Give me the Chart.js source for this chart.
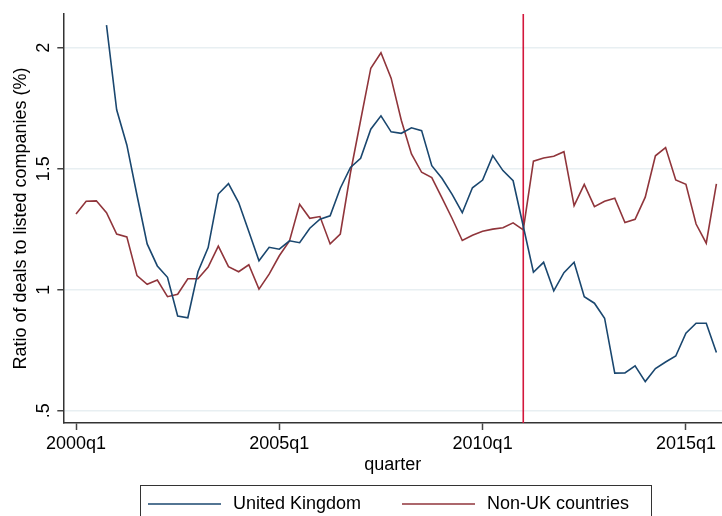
<!DOCTYPE html>
<html>
<head>
<meta charset="utf-8">
<script src="https://cdn.jsdelivr.net/npm/chart.js@4"></script>
<style>
  body { margin: 0; background: #fff; }
</style>
</head>
<body>
<canvas id="ratioChart" width="722" height="516"></canvas>
<script>
const quarters = [
  '2000q1','2000q2','2000q3','2000q4','2001q1','2001q2','2001q3','2001q4',
  '2002q1','2002q2','2002q3','2002q4','2003q1','2003q2','2003q3','2003q4',
  '2004q1','2004q2','2004q3','2004q4','2005q1','2005q2','2005q3','2005q4',
  '2006q1','2006q2','2006q3','2006q4','2007q1','2007q2','2007q3','2007q4',
  '2008q1','2008q2','2008q3','2008q4','2009q1','2009q2','2009q3','2009q4',
  '2010q1','2010q2','2010q3','2010q4','2011q1','2011q2','2011q3','2011q4',
  '2012q1','2012q2','2012q3','2012q4','2013q1','2013q2','2013q3','2013q4',
  '2014q1','2014q2','2014q3','2014q4','2015q1','2015q2','2015q3','2015q4'
]

const ukRatio = [
  null, null, null, 2.093, 1.743, 1.598, 1.390, 1.189,
  1.098, 1.051, 0.891, 0.884, 1.074, 1.174, 1.395, 1.438,
  1.360, 1.240, 1.119, 1.175, 1.167, 1.202, 1.194, 1.254,
  1.291, 1.305, 1.419, 1.505, 1.543, 1.663, 1.718, 1.652,
  1.646, 1.669, 1.657, 1.512, 1.460, 1.394, 1.318, 1.421,
  1.453, 1.554, 1.492, 1.450, 1.262, 1.072, 1.113, 0.995,
  1.070, 1.113, 0.971, 0.944, 0.882, 0.655, 0.656, 0.685,
  0.620, 0.674, 0.701, 0.726, 0.820, 0.861, 0.861, 0.740
]

const nonUkRatio = [
  1.313, 1.365, 1.367, 1.318, 1.230, 1.218, 1.058, 1.022,
  1.040, 0.971, 0.981, 1.045, 1.045, 1.093, 1.180, 1.095,
  1.074, 1.103, 1.002, 1.064, 1.140, 1.201, 1.353, 1.295,
  1.302, 1.189, 1.230, 1.483, 1.700, 1.915, 1.979, 1.874,
  1.700, 1.561, 1.485, 1.463, 1.379, 1.294, 1.203, 1.225,
  1.241, 1.250, 1.256, 1.276, 1.247, 1.531, 1.544, 1.551,
  1.570, 1.347, 1.435, 1.343, 1.365, 1.378, 1.277, 1.291,
  1.382, 1.553, 1.587, 1.453, 1.435, 1.271, 1.192, 1.437
]

const xTickLabels = ['2000q1', '2005q1', '2010q1', '2015q1']
const yTickValues = [0.5, 1, 1.5, 2]
const yTickLabels = ['.5', '1', '1.5', '2']
const eventQuarter = '2011q1'

const FONT = "'Liberation Sans', Arial, Helvetica, sans-serif"
const ukColor = '#1a476f'
const nonUkColor = '#90353b'

function toPoints(values) {
  return values.map((v, i) => ({ x: i, y: v }))
}

// stata-ish extras: rotated y labels, y title, event line, boxed legend
const extras = {
  id: 'extras',
  beforeDatasetsDraw(chart) {
    const ctx = chart.ctx
    const area = chart.chartArea
    const x = chart.scales.x.getPixelForValue(quarters.indexOf(eventQuarter))
    ctx.save()
    ctx.strokeStyle = '#d3173c'
    ctx.lineWidth = 1.6
    ctx.beginPath()
    ctx.moveTo(x, area.top)
    ctx.lineTo(x, area.bottom)
    ctx.stroke()
    ctx.restore()
  },
  afterDraw(chart) {
    const ctx = chart.ctx
    const y = chart.scales.y
    const area = chart.chartArea
    ctx.save()
    ctx.fillStyle = '#000'
    ctx.font = '18px ' + FONT
    ctx.textAlign = 'center'
    ctx.textBaseline = 'middle'

    yTickValues.forEach((v, i) => {
      ctx.save()
      ctx.translate(44, y.getPixelForValue(v))
      ctx.rotate(-Math.PI / 2)
      ctx.fillText(yTickLabels[i], 0, 0)
      ctx.restore()
    })

    ctx.save()
    ctx.translate(21, (area.top + area.bottom) / 2)
    ctx.rotate(-Math.PI / 2)
    ctx.fillText('Ratio of deals to listed companies (%)', 0, 0)
    ctx.restore()

    // legend box
    ctx.strokeStyle = '#333'
    ctx.lineWidth = 1
    ctx.strokeRect(140.5, 485.5, 511, 50)
    const rowY = 504
    ctx.textAlign = 'left'
    const items = [
      { x: 148, ds: chart.data.datasets[0] },
      { x: 402, ds: chart.data.datasets[1] }
    ]
    items.forEach(item => {
      ctx.strokeStyle = item.ds.borderColor
      ctx.lineWidth = 1.6
      ctx.beginPath()
      ctx.moveTo(item.x, rowY)
      ctx.lineTo(item.x + 73, rowY)
      ctx.stroke()
      ctx.fillText(item.ds.label, item.x + 85, rowY)
    })
    ctx.restore()
  }
}

new Chart(document.getElementById('ratioChart'), {
  type: 'line',
  data: {
    datasets: [{
      label: 'United Kingdom',
      data: toPoints(ukRatio),
      borderColor: ukColor,
      borderWidth: 1.6,
      pointRadius: 0,
      fill: false,
      tension: 0
    }, {
      label: 'Non-UK countries',
      data: toPoints(nonUkRatio),
      borderColor: nonUkColor,
      borderWidth: 1.6,
      pointRadius: 0,
      fill: false,
      tension: 0
    }]
  },
  options: {
    responsive: false,
    animation: false,
    devicePixelRatio: 1,
    layout: { padding: { top: 14, right: 0, bottom: 0, left: 0 } },
    plugins: {
      legend: { display: false },
      tooltip: { enabled: false }
    },
    scales: {
      x: {
        type: 'linear',
        min: -1.25,
        max: 63.55,
        afterBuildTicks: scale => {
          scale.ticks = xTickLabels.map(l => ({ value: quarters.indexOf(l) }))
        },
        afterFit: scale => { scale.height = 93 },
        ticks: {
          color: '#000',
          font: { family: FONT, size: 18 },
          padding: 3,
          maxRotation: 0,
          callback: v => quarters[v]
        },
        grid: {
          drawOnChartArea: false,
          tickLength: 7,
          tickColor: '#444',
          tickWidth: 1.5
        },
        border: { color: '#333', width: 1.5 },
        title: {
          display: true,
          text: 'quarter',
          color: '#000',
          font: { family: FONT, size: 18 },
          padding: { top: 0, bottom: 40 }
        }
      },
      y: {
        min: 0.449,
        max: 2.139,
        afterBuildTicks: scale => {
          scale.ticks = yTickValues.map(v => ({ value: v }))
        },
        afterFit: scale => { scale.width = 63.3 },
        ticks: { display: false },
        grid: {
          color: '#e8eff2',
          lineWidth: 1.5,
          tickLength: 6,
          tickColor: '#444',
          tickWidth: 1.5
        },
        border: { color: '#333', width: 1.5 }
      }
    }
  },
  plugins: [extras]
})
</script>
</body>
</html>
